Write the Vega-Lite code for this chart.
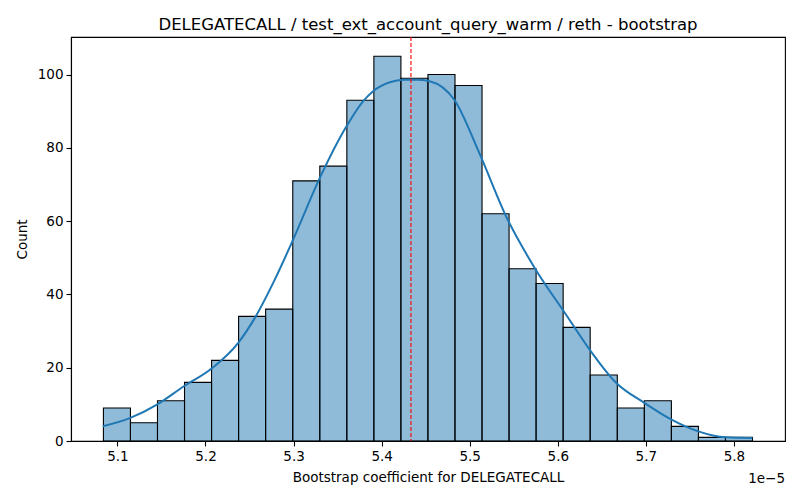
{
  "$schema": "https://vega.github.io/schema/vega-lite/v6.json",
  "autosize": "none",
  "width": 714,
  "height": 404,
  "padding": {"left": 71, "top": 37, "right": 15, "bottom": 59},
  "background": "white",
  "config": {
    "font": "DejaVu Sans",
    "view": {"stroke": "black", "strokeWidth": 1.1},
    "axis": {
      "labelFont": "DejaVu Sans", "titleFont": "DejaVu Sans",
      "labelFontSize": 13.5, "titleFontSize": 13.5, "titleFontWeight": "normal",
      "labelColor": "black", "titleColor": "black",
      "tickColor": "black", "tickSize": 5, "tickWidth": 1.1,
      "domainColor": "black", "domainWidth": 1.1,
      "grid": false, "labelPadding": 3
    },
    "title": {"font": "DejaVu Sans", "fontSize": 16.5, "fontWeight": "normal", "color": "black"}
  },
  "title": {"text": "DELEGATECALL / test_ext_account_query_warm / reth - bootstrap", "offset": 3},
  "datasets": {
    "bins": [
      {"bin_start": 5.0841, "bin_end": 5.1148, "count": 9},
      {"bin_start": 5.1148, "bin_end": 5.1455, "count": 5},
      {"bin_start": 5.1455, "bin_end": 5.1762, "count": 11},
      {"bin_start": 5.1762, "bin_end": 5.2069, "count": 16},
      {"bin_start": 5.2069, "bin_end": 5.2376, "count": 22},
      {"bin_start": 5.2376, "bin_end": 5.2683, "count": 34},
      {"bin_start": 5.2683, "bin_end": 5.2991, "count": 36},
      {"bin_start": 5.2991, "bin_end": 5.3298, "count": 71},
      {"bin_start": 5.3298, "bin_end": 5.3605, "count": 75},
      {"bin_start": 5.3605, "bin_end": 5.3912, "count": 93},
      {"bin_start": 5.3912, "bin_end": 5.4219, "count": 105},
      {"bin_start": 5.4219, "bin_end": 5.4526, "count": 99},
      {"bin_start": 5.4526, "bin_end": 5.4833, "count": 100},
      {"bin_start": 5.4833, "bin_end": 5.5140, "count": 97},
      {"bin_start": 5.5140, "bin_end": 5.5447, "count": 62},
      {"bin_start": 5.5447, "bin_end": 5.5754, "count": 47},
      {"bin_start": 5.5754, "bin_end": 5.6061, "count": 43},
      {"bin_start": 5.6061, "bin_end": 5.6368, "count": 31},
      {"bin_start": 5.6368, "bin_end": 5.6676, "count": 18},
      {"bin_start": 5.6676, "bin_end": 5.6983, "count": 9},
      {"bin_start": 5.6983, "bin_end": 5.7290, "count": 11},
      {"bin_start": 5.7290, "bin_end": 5.7597, "count": 4},
      {"bin_start": 5.7597, "bin_end": 5.7904, "count": 1},
      {"bin_start": 5.7904, "bin_end": 5.8211, "count": 1}
    ],
    "kde": [
      {"x": 5.0834, "density": 4.0},
      {"x": 5.1147, "density": 6.3},
      {"x": 5.1454, "density": 10.0},
      {"x": 5.1760, "density": 15.0},
      {"x": 5.2066, "density": 19.7},
      {"x": 5.2372, "density": 26.8},
      {"x": 5.2561, "density": 33.6},
      {"x": 5.2788, "density": 44.1},
      {"x": 5.2996, "density": 55.0},
      {"x": 5.3298, "density": 71.8},
      {"x": 5.3601, "density": 85.9},
      {"x": 5.3789, "density": 92.7},
      {"x": 5.3900, "density": 95.4},
      {"x": 5.4092, "density": 97.9},
      {"x": 5.4250, "density": 98.6},
      {"x": 5.4400, "density": 98.6},
      {"x": 5.4545, "density": 98.2},
      {"x": 5.4829, "density": 93.0},
      {"x": 5.5112, "density": 78.4},
      {"x": 5.5415, "density": 61.2},
      {"x": 5.5736, "density": 47.3},
      {"x": 5.6085, "density": 34.8},
      {"x": 5.6360, "density": 25.0},
      {"x": 5.6662, "density": 15.9},
      {"x": 5.6983, "density": 10.4},
      {"x": 5.7286, "density": 5.9},
      {"x": 5.7587, "density": 2.7},
      {"x": 5.7910, "density": 1.0},
      {"x": 5.8210, "density": 0.8}
    ],
    "ref": [{"value": 5.4333}],
    "offset": [{"x": 5.858, "y": -10.3, "label": "1e\u22125"}]
  },
  "layer": [
    {
      "data": {"name": "bins"},
      "mark": {"type": "rect", "fill": "#1f77b4", "fillOpacity": 0.5, "stroke": "black", "strokeWidth": 1.1},
      "encoding": {
        "x": {"field": "bin_start", "type": "quantitative",
              "scale": {"domain": [5.0473, 5.858], "nice": false, "zero": false},
              "axis": {"title": "Bootstrap coefficient for DELEGATECALL", "values": [5.1, 5.2, 5.3, 5.4, 5.5, 5.6, 5.7, 5.8], "format": ".1f", "titlePadding": 8}},
        "x2": {"field": "bin_end"},
        "y": {"field": "count", "type": "quantitative",
              "scale": {"domain": [0, 110.25], "nice": false},
              "axis": {"title": "Count", "values": [0, 20, 40, 60, 80, 100], "titlePadding": 8}},
        "y2": {"datum": 0}
      }
    },
    {
      "data": {"name": "kde"},
      "mark": {"type": "line", "color": "#1f77b4", "strokeWidth": 2, "interpolate": "monotone"},
      "encoding": {
        "x": {"field": "x", "type": "quantitative"},
        "y": {"field": "density", "type": "quantitative"}
      }
    },
    {
      "data": {"name": "ref"},
      "mark": {"type": "rule", "color": "red", "strokeDash": [4, 2], "strokeWidth": 1.1},
      "encoding": {
        "x": {"field": "value", "type": "quantitative"}
      }
    },
    {
      "data": {"name": "offset"},
      "mark": {"type": "text", "align": "right", "baseline": "middle", "fontSize": 13.5, "font": "DejaVu Sans", "color": "black"},
      "encoding": {
        "x": {"field": "x", "type": "quantitative"},
        "y": {"field": "y", "type": "quantitative"},
        "text": {"field": "label"}
      }
    }
  ]
}
